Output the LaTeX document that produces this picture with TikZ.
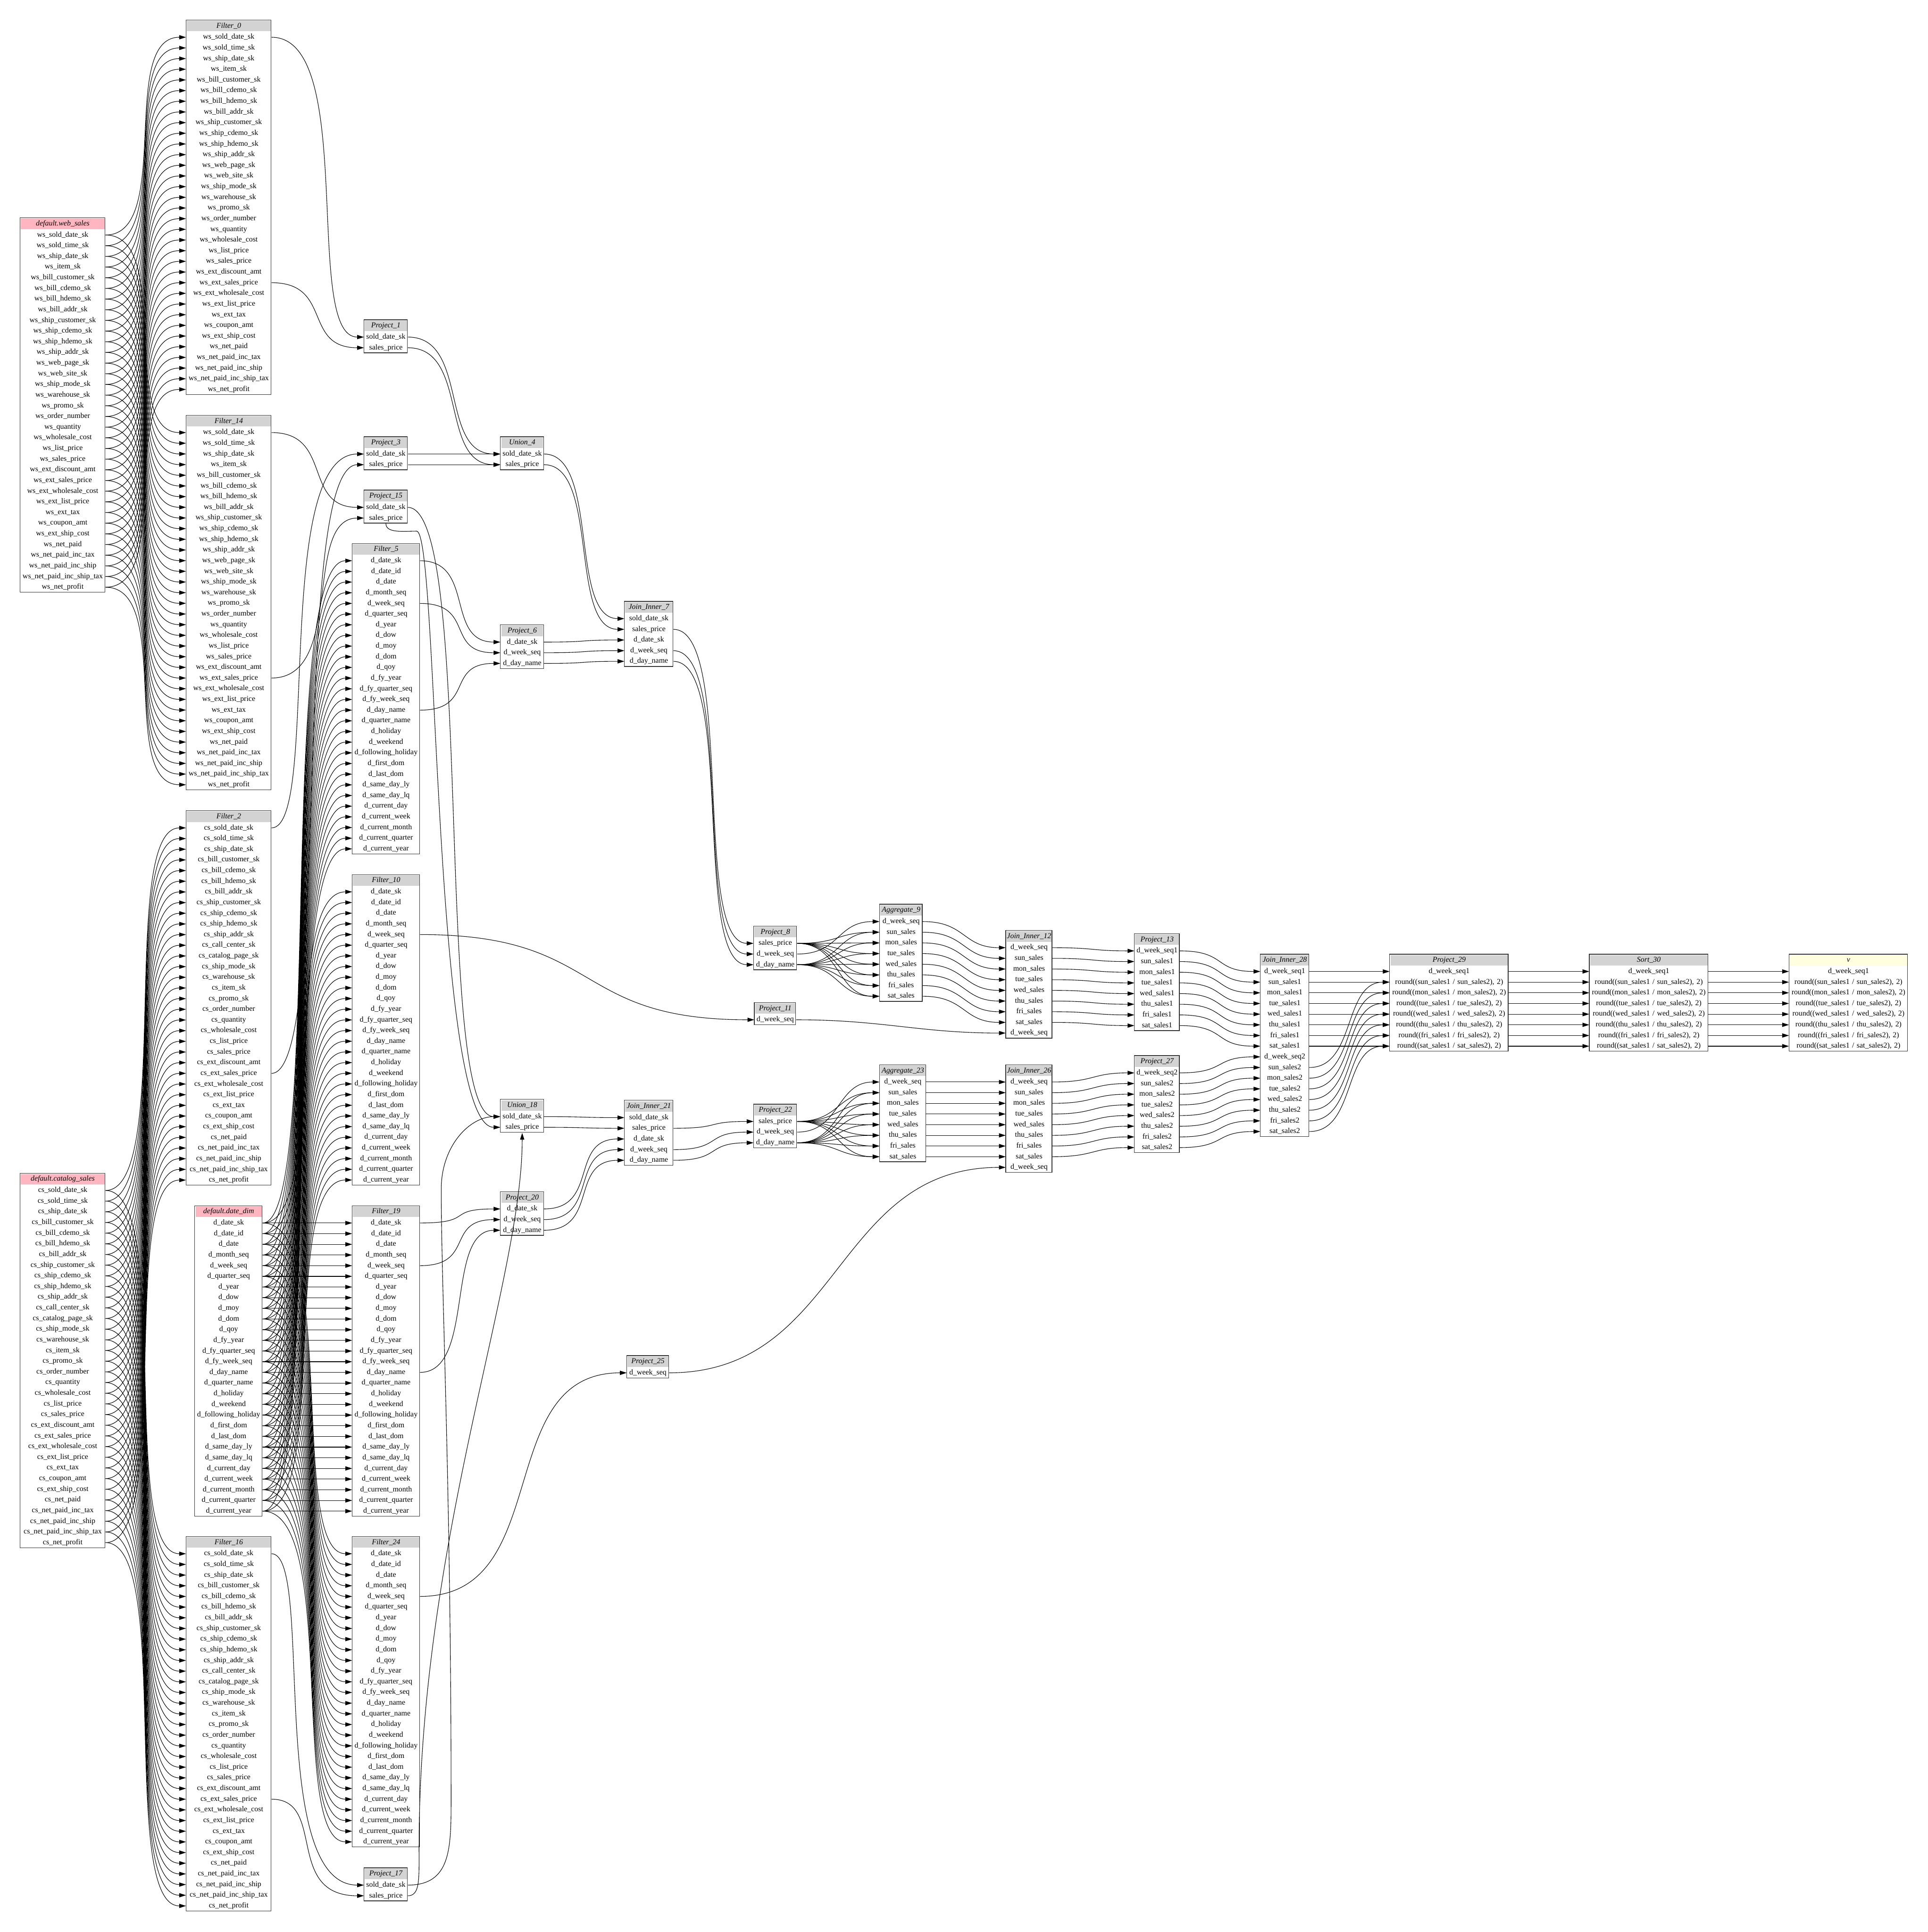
\documentclass[tikz,border=0pt]{standalone}
\usepackage{fontspec}
\setmainfont{Liberation Serif}
\usetikzlibrary{arrows.meta}

\definecolor{hdrgray}{HTML}{D3D3D3}
\definecolor{srcpink}{HTML}{FFB6C1}
\definecolor{sinkyellow}{HTML}{FFFFE0}
\newcommand{\rowfont}{\fontsize{6.1}{7}\selectfont}

\newcommand{\lineagetable}[7]{%
  \pgfmathsetmacro\hdrw{#4-1}
  \node[hdr,fill=#6,text width=\hdrw pt,minimum width=\hdrw pt,anchor=north west] (#1) at (#2+0.5,#3+0.5) {#5};
  \foreach \cname [count=\i] in #7 {
    \node[cell,text width=#4pt,anchor=north west] (#1-\i) at (#2,{#3+9.5+(\i-1)*8.66}) {\cname};
    \xdef\nrows{\i}
  }
  \draw[frame] (#2,#3) rectangle ({#2+#4},{#3+9.5+\nrows*8.66});
}

\catcode`\_=12
\def\wscols{ws_sold_date_sk,ws_sold_time_sk,ws_ship_date_sk,ws_item_sk,ws_bill_customer_sk,ws_bill_cdemo_sk,ws_bill_hdemo_sk,ws_bill_addr_sk,ws_ship_customer_sk,ws_ship_cdemo_sk,ws_ship_hdemo_sk,ws_ship_addr_sk,ws_web_page_sk,ws_web_site_sk,ws_ship_mode_sk,ws_warehouse_sk,ws_promo_sk,ws_order_number,ws_quantity,ws_wholesale_cost,ws_list_price,ws_sales_price,ws_ext_discount_amt,ws_ext_sales_price,ws_ext_wholesale_cost,ws_ext_list_price,ws_ext_tax,ws_coupon_amt,ws_ext_ship_cost,ws_net_paid,ws_net_paid_inc_tax,ws_net_paid_inc_ship,ws_net_paid_inc_ship_tax,ws_net_profit}
\def\cscols{cs_sold_date_sk,cs_sold_time_sk,cs_ship_date_sk,cs_bill_customer_sk,cs_bill_cdemo_sk,cs_bill_hdemo_sk,cs_bill_addr_sk,cs_ship_customer_sk,cs_ship_cdemo_sk,cs_ship_hdemo_sk,cs_ship_addr_sk,cs_call_center_sk,cs_catalog_page_sk,cs_ship_mode_sk,cs_warehouse_sk,cs_item_sk,cs_promo_sk,cs_order_number,cs_quantity,cs_wholesale_cost,cs_list_price,cs_sales_price,cs_ext_discount_amt,cs_ext_sales_price,cs_ext_wholesale_cost,cs_ext_list_price,cs_ext_tax,cs_coupon_amt,cs_ext_ship_cost,cs_net_paid,cs_net_paid_inc_tax,cs_net_paid_inc_ship,cs_net_paid_inc_ship_tax,cs_net_profit}
\def\ddcols{d_date_sk,d_date_id,d_date,d_month_seq,d_week_seq,d_quarter_seq,d_year,d_dow,d_moy,d_dom,d_qoy,d_fy_year,d_fy_quarter_seq,d_fy_week_seq,d_day_name,d_quarter_name,d_holiday,d_weekend,d_following_holiday,d_first_dom,d_last_dom,d_same_day_ly,d_same_day_lq,d_current_day,d_current_week,d_current_month,d_current_quarter,d_current_year}
\def\salecols{sold_date_sk,sales_price}
\def\datecols{d_date_sk,d_week_seq,d_day_name}
\def\joincols{sold_date_sk,sales_price,d_date_sk,d_week_seq,d_day_name}
\def\pricecols{sales_price,d_week_seq,d_day_name}
\def\weekcols{d_week_seq}
\def\aggcols{d_week_seq,sun_sales,mon_sales,tue_sales,wed_sales,thu_sales,fri_sales,sat_sales}
\def\aggjoincols{d_week_seq,sun_sales,mon_sales,tue_sales,wed_sales,thu_sales,fri_sales,sat_sales,d_week_seq}
\def\firstcols{d_week_seq1,sun_sales1,mon_sales1,tue_sales1,wed_sales1,thu_sales1,fri_sales1,sat_sales1}
\def\secondcols{d_week_seq2,sun_sales2,mon_sales2,tue_sales2,wed_sales2,thu_sales2,fri_sales2,sat_sales2}
\def\bothcols{d_week_seq1,sun_sales1,mon_sales1,tue_sales1,wed_sales1,thu_sales1,fri_sales1,sat_sales1,d_week_seq2,sun_sales2,mon_sales2,tue_sales2,wed_sales2,thu_sales2,fri_sales2,sat_sales2}
\def\ratiocols{d_week_seq1,{round((sun_sales1 / sun_sales2), 2)},{round((mon_sales1 / mon_sales2), 2)},{round((tue_sales1 / tue_sales2), 2)},{round((wed_sales1 / wed_sales2), 2)},{round((thu_sales1 / thu_sales2), 2)},{round((fri_sales1 / fri_sales2), 2)},{round((sat_sales1 / sat_sales2), 2)}}

\begin{document}
\begin{tikzpicture}[
  x=1pt,y=-1pt,
  cell/.style={inner sep=0pt,minimum height=8.66pt,text height=4.2pt,text depth=1.3pt,align=center,font=\rowfont},
  hdr/.style={inner sep=0pt,minimum height=8.5pt,text height=4.2pt,text depth=1.3pt,align=center,font=\rowfont\itshape},
  frame/.style={draw=black!80,line width=0.5pt},
  flow/.style={-{Triangle[length=5.5pt,width=3.4pt]},line width=0.42pt},
  fwd/.style={out=0,in=180,distance=#1},
  skew/.style 2 args={out=0,in=180,out distance=#1,in distance=#2}
]
  \useasboundingbox (0,0) rectangle (1564,1567.8);

  \lineagetable{ws}{16.2}{176.7}{69}{default.web_sales}{srcpink}{\wscols}
  \lineagetable{cs}{16.2}{952}{69}{default.catalog_sales}{srcpink}{\cscols}
  \lineagetable{dd}{158}{978.4}{54.7}{default.date_dim}{srcpink}{\ddcols}
  \lineagetable{f0}{150.9}{16.2}{69}{Filter_0}{hdrgray}{\wscols}
  \lineagetable{f14}{150.9}{337}{69}{Filter_14}{hdrgray}{\wscols}
  \lineagetable{f2}{150.9}{657.8}{69}{Filter_2}{hdrgray}{\cscols}
  \lineagetable{f16}{150.9}{1246.8}{69}{Filter_16}{hdrgray}{\cscols}
  \lineagetable{f5}{285.7}{441}{54.7}{Filter_5}{hdrgray}{\ddcols}
  \lineagetable{f10}{285.7}{709.7}{54.7}{Filter_10}{hdrgray}{\ddcols}
  \lineagetable{f19}{285.7}{978.4}{54.7}{Filter_19}{hdrgray}{\ddcols}
  \lineagetable{f24}{285.7}{1246.8}{54.7}{Filter_24}{hdrgray}{\ddcols}
  \lineagetable{p1}{295.3}{259.5}{35.2}{Project_1}{hdrgray}{\salecols}
  \lineagetable{p3}{295.3}{354.4}{35.2}{Project_3}{hdrgray}{\salecols}
  \lineagetable{p15}{295.3}{397.7}{35.2}{Project_15}{hdrgray}{\salecols}
  \lineagetable{p17}{295.3}{1515.7}{35.2}{Project_17}{hdrgray}{\salecols}
  \lineagetable{u4}{406}{354.4}{35}{Union_4}{hdrgray}{\salecols}
  \lineagetable{u18}{406}{892.1}{35}{Union_18}{hdrgray}{\salecols}
  \lineagetable{p6}{406}{507}{35}{Project_6}{hdrgray}{\datecols}
  \lineagetable{p20}{406}{967}{35}{Project_20}{hdrgray}{\datecols}
  \lineagetable{j7}{506.6}{488}{39.4}{Join_Inner_7}{hdrgray}{\joincols}
  \lineagetable{j21}{506.6}{892.9}{39.4}{Join_Inner_21}{hdrgray}{\joincols}
  \lineagetable{p8}{611.4}{751.5}{35}{Project_8}{hdrgray}{\pricecols}
  \lineagetable{p22}{611.4}{896}{35}{Project_22}{hdrgray}{\pricecols}
  \lineagetable{p11}{612}{813.5}{33.6}{Project_11}{hdrgray}{\weekcols}
  \lineagetable{p25}{508.5}{1100}{34}{Project_25}{hdrgray}{\weekcols}
  \lineagetable{a9}{713.6}{733.8}{34.7}{Aggregate_9}{hdrgray}{\aggcols}
  \lineagetable{a23}{713.6}{864}{37.5}{Aggregate_23}{hdrgray}{\aggcols}
  \lineagetable{j12}{816}{755}{37.5}{Join_Inner_12}{hdrgray}{\aggjoincols}
  \lineagetable{j26}{816}{864}{37.5}{Join_Inner_26}{hdrgray}{\aggjoincols}
  \lineagetable{p13}{920.4}{757.6}{36.5}{Project_13}{hdrgray}{\firstcols}
  \lineagetable{p27}{920.4}{856.6}{36.5}{Project_27}{hdrgray}{\secondcols}
  \lineagetable{j28}{1022.6}{774.3}{39.3}{Join_Inner_28}{hdrgray}{\bothcols}
  \lineagetable{p29}{1127.5}{774.3}{96.2}{Project_29}{hdrgray}{\ratiocols}
  \lineagetable{s30}{1289.5}{774.3}{96.2}{Sort_30}{hdrgray}{\ratiocols}
  \lineagetable{v}{1451.5}{774.3}{96.2}{v}{sinkyellow}{\ratiocols}

  \foreach \i in {1,...,34} {
    \draw[flow] (ws-\i.east) to[fwd=55pt] (f0-\i.west);
    \draw[flow] (ws-\i.east) to[fwd=55pt] (f14-\i.west);
    \draw[flow] (cs-\i.east) to[fwd=55pt] (f2-\i.west);
    \draw[flow] (cs-\i.east) to[fwd=55pt] (f16-\i.west);
  }
  \foreach \i in {1,...,28} {
    \draw[flow] (dd-\i.east) to[skew={50pt}{62pt}] (f5-\i.west);
    \draw[flow] (dd-\i.east) to[skew={55pt}{60pt}] (f10-\i.west);
    \draw[flow] (dd-\i.east) to[fwd=36pt] (f19-\i.west);
    \draw[flow] (dd-\i.east) to[skew={62pt}{52pt}] (f24-\i.west);
  }

  \draw[flow] (f0-1.east) to[skew={70pt}{50pt}] (p1-1.west);
  \draw[flow] (f0-24.east) to[fwd=50pt] (p1-2.west);
  \draw[flow] (f14-1.east) to[fwd=50pt] (p15-1.west);
  \draw[flow] (f14-24.east) to[skew={60pt}{50pt}] (p15-2.west);
  \draw[flow] (f2-1.east) to[skew={40pt}{75pt}] (p3-1.west);
  \draw[flow] (f2-24.east) to[skew={50pt}{60pt}] (p3-2.west);
  \draw[flow] (f16-1.east) to[skew={35pt}{80pt}] (p17-1.west);
  \draw[flow] (f16-24.east) to[skew={45pt}{65pt}] (p17-2.west);
  \draw[flow] (f5-1.east) to[fwd=45pt] (p6-1.west);
  \draw[flow] (f5-5.east) to[fwd=45pt] (p6-2.west);
  \draw[flow] (f5-15.east) to[fwd=45pt] (p6-3.west);
  \draw[flow] (f10-5.east) to[fwd=150pt] (p11-1.west);
  \draw[flow] (f19-1.east) to[fwd=45pt] (p20-1.west);
  \draw[flow] (f19-5.east) to[fwd=45pt] (p20-2.west);
  \draw[flow] (f19-15.east) to[fwd=45pt] (p20-3.west);
  \draw[flow] (f24-5.east) to[fwd=110pt] (p25-1.west);

  \draw[flow] (p1-1.east) to[fwd=50pt] (u4-1.west);
  \draw[flow] (p1-2.east) to[fwd=50pt] (u4-2.west);
  \draw[flow] (p3-1.east) to[fwd=38pt] (u4-1.west);
  \draw[flow] (p3-2.east) to[fwd=38pt] (u4-2.west);
  \draw[flow] (p15-1.east) to[fwd=55pt] (u18-1.west);
  \draw[flow] (p15-2.south) .. controls +(0,8) and +(-10,0) .. (338,431)
    .. controls +(18,0) and +(-55,0) .. (u18-2.west);
  \draw[flow] (p17-1.east) .. controls +(35,0) and +(0,40) .. (366,1460)
    .. controls +(0,-250) and +(0,80) .. (358,965)
    .. controls +(0,-35) and +(-25,0) .. (u18-1.west);
  \draw[flow] (p17-2.east) .. controls +(10,0) and +(0,25) .. (340,1500)
    .. controls +(0,-250) and +(0,120) .. (u18-2.south);

  \foreach \k in {1,2} {
    \draw[flow] (u4-\k.east) to[fwd=45pt] (j7-\k.west);
    \draw[flow] (u18-\k.east) to[fwd=33pt] (j21-\k.west);
  }
  \foreach \k [evaluate=\k as \m using int(\k+2)] in {1,2,3} {
    \draw[flow] (p6-\k.east) to[fwd=40pt] (j7-\m.west);
    \draw[flow] (p20-\k.east) to[fwd=45pt] (j21-\m.west);
  }
  \foreach \k/\m in {2/1,4/2,5/3} {
    \draw[flow] (j7-\k.east) to[fwd=50pt] (p8-\m.west);
    \draw[flow] (j21-\k.east) to[fwd=40pt] (p22-\m.west);
  }

  \draw[flow] (p8-2.east) to[fwd=35pt] (a9-1.west);
  \draw[flow] (p22-2.east) to[fwd=35pt] (a23-1.west);
  \foreach \k in {2,...,8} {
    \draw[flow] (p8-1.east) to[fwd=35pt] (a9-\k.west);
    \draw[flow] (p8-3.east) to[fwd=35pt] (a9-\k.west);
    \draw[flow] (p22-1.east) to[fwd=35pt] (a23-\k.west);
    \draw[flow] (p22-3.east) to[fwd=35pt] (a23-\k.west);
  }

  \foreach \k in {1,...,8} {
    \draw[flow] (a9-\k.east) to[fwd=35pt] (j12-\k.west);
    \draw[flow] (a23-\k.east) to[fwd=35pt] (j26-\k.west);
    \draw[flow] (j12-\k.east) to[fwd=35pt] (p13-\k.west);
    \draw[flow] (j26-\k.east) to[fwd=35pt] (p27-\k.west);
  }
  \draw[flow] (p11-1.east) to[fwd=70pt] (j12-9.west);
  \draw[flow] (p25-1.east) to[fwd=140pt] (j26-9.west);

  \foreach \k [evaluate=\k as \m using int(\k+8)] in {1,...,8} {
    \draw[flow] (p13-\k.east) to[fwd=38pt] (j28-\k.west);
    \draw[flow] (p27-\k.east) to[fwd=38pt] (j28-\m.west);
    \draw[flow] (p29-\k.east) to[fwd=30pt] (s30-\k.west);
    \draw[flow] (s30-\k.east) to[fwd=30pt] (v-\k.west);
  }
  \draw[flow] (j28-1.east) to[fwd=38pt] (p29-1.west);
  \foreach \k [evaluate=\k as \m using int(\k+8)] in {2,...,8} {
    \draw[flow] (j28-\k.east) to[fwd=38pt] (p29-\k.west);
    \draw[flow] (j28-\m.east) to[fwd=38pt] (p29-\k.west);
  }
\end{tikzpicture}
\end{document}
